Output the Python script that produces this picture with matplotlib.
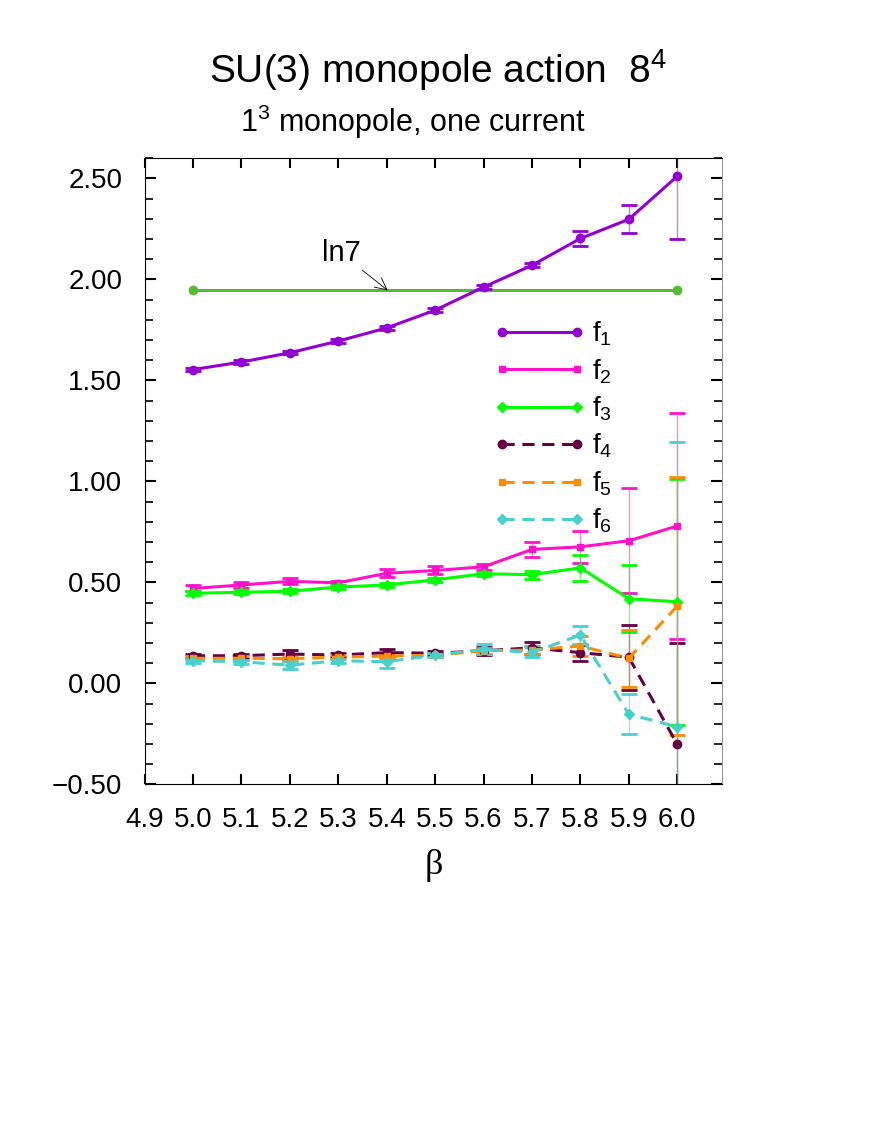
import numpy as np
import matplotlib
matplotlib.use("Agg")
import matplotlib.pyplot as plt

plt.rcParams['font.family'] = ['Liberation Sans', 'DejaVu Sans']

beta = [5.0, 5.1, 5.2, 5.3, 5.4, 5.5, 5.6, 5.7, 5.8, 5.9, 6.0]

f1 = [1.554, 1.591, 1.637, 1.695, 1.760, 1.848, 1.962, 2.070, 2.203, 2.298, 2.511]
f1_err = [0.008, 0.008, 0.008, 0.008, 0.008, 0.01, 0.01, 0.01, 0.035, 0.07, 0.31]
f2 = [0.470, 0.487, 0.505, 0.498, 0.545, 0.559, 0.577, 0.663, 0.676, 0.706, 0.779]
f2_err = [0.015, 0.015, 0.015, 0.01, 0.02, 0.02, 0.015, 0.035, 0.078, 0.26, 0.56]
f3 = [0.446, 0.451, 0.456, 0.477, 0.487, 0.513, 0.543, 0.538, 0.572, 0.419, 0.404]
f3_err = [0.01, 0.01, 0.01, 0.01, 0.01, 0.01, 0.01, 0.02, 0.065, 0.165, 0.61]
f4 = [0.136, 0.137, 0.145, 0.140, 0.152, 0.149, 0.161, 0.176, 0.152, 0.129, -0.302]
f4_err = [0.01, 0.01, 0.02, 0.01, 0.02, 0.01, 0.02, 0.03, 0.04, 0.16, 0.5]
f5 = [0.124, 0.124, 0.122, 0.130, 0.135, 0.139, 0.161, 0.165, 0.185, 0.124, 0.383]
f5_err = [0.01, 0.01, 0.01, 0.01, 0.01, 0.01, 0.015, 0.02, 0.05, 0.14, 0.64]
f6 = [0.112, 0.107, 0.090, 0.112, 0.107, 0.140, 0.168, 0.153, 0.239, -0.153, -0.215]
f6_err = [0.01, 0.01, 0.02, 0.01, 0.03, 0.01, 0.025, 0.025, 0.045, 0.1, 1.41]

ln7 = np.log(7.0)
ln7_x = [5.0, 6.0]

series = [
    (f1, f1_err, '#9400d3', 'o', '-', r'$\mathregular{f_1}$'),
    (f2, f2_err, '#ff11cc', 's', '-', r'$\mathregular{f_2}$'),
    (f3, f3_err, '#00ff00', 'D', '-', r'$\mathregular{f_3}$'),
    (f4, f4_err, '#660044', 'o', '--', r'$\mathregular{f_4}$'),
    (f5, f5_err, '#ff8c00', 's', '--', r'$\mathregular{f_5}$'),
    (f6, f6_err, '#48d1cc', 'D', '--', r'$\mathregular{f_6}$'),
]

fig = plt.figure(figsize=(8.79, 11.38), dpi=100)
ax = fig.add_axes([0.1645, 0.3108, 0.6572, 0.5501])

ax.plot(ln7_x, [ln7, ln7], color='#55bb33', lw=2.2, marker='o', ms=6)

handles = []
labels = []
for y, e, c, m, ls, lab in series:
    ms = 6 if m == 'o' else 5
    line, caps, bars = ax.errorbar(beta, y, yerr=e, color=c, lw=2.2, ls=ls,
                                   marker=m, ms=ms, capsize=6, capthick=2,
                                   elinewidth=1)
    if ls == '--':
        line.set_dashes((4, 2.5))
    bars[0].set_alpha(0.5)
    handles.append(line)
    labels.append(lab)

ax.annotate('ln7', xy=(5.402, ln7), xytext=(5.266, 2.129),
            fontsize=21, va='center', ha='left',
            arrowprops=dict(arrowstyle='->', color='black', lw=0.6,
                            shrinkA=0, shrinkB=0))

ax.set_xlim(4.9, 6.093)
ax.set_ylim(-0.5, 2.6)
ax.set_xticks(np.arange(4.9, 6.05, 0.1))
ax.set_xticklabels(['%.1f' % v for v in np.arange(4.9, 6.05, 0.1)])
ax.set_yticks([-0.5, 0.0, 0.5, 1.0, 1.5, 2.0, 2.5])
ax.set_yticklabels(['\u22120.50', '0.00', '0.50', '1.00', '1.50', '2.00', '2.50'])
ax.set_yticks(np.arange(-0.5, 2.61, 0.1), minor=True)
ax.tick_params(axis='both', which='both', direction='in', top=True, right=True,
               labelsize=20)
ax.tick_params(axis='x', which='major', length=7, width=1.5, pad=16)
ax.tick_params(axis='y', which='major', length=8, width=1.5, pad=16)
ax.tick_params(axis='y', which='minor', length=6, width=1.2)
ax.spines['right'].set_color('#999999')

ax.set_xlabel('β', fontsize=26, family=['Liberation Serif', 'DejaVu Serif'], labelpad=12)

ax.legend(handles, labels, loc='upper left', bbox_to_anchor=(0.604, 0.742),
          frameon=False, fontsize=20, handlelength=3.3, handletextpad=0.26,
          labelspacing=0.32, numpoints=2, borderpad=0, borderaxespad=0)

fig.text(0.498, 0.938, r'SU(3) monopole action  $\mathregular{8^4}$', fontsize=28,
         ha='center', va='center')
fig.text(0.469, 0.893, r'$\mathregular{1^3}$ monopole, one current', fontsize=22,
         ha='center', va='center')

fig.savefig('out.png', dpi=100)
